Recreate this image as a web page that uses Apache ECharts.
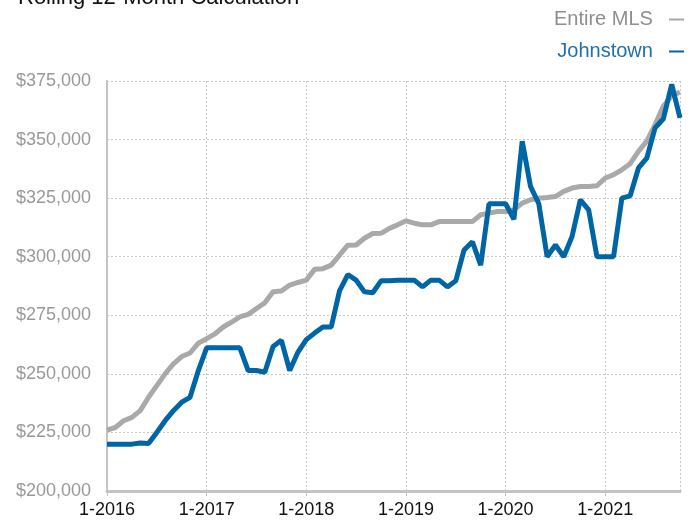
<!DOCTYPE html>
<html>
<head>
<meta charset="utf-8">
<script src="https://cdn.jsdelivr.net/npm/echarts@6/dist/echarts.min.js"></script>
<style>html,body{margin:0;padding:0;background:#fff}#c{width:700px;height:521px}</style>
</head>
<body>
<div id="c"></div>
<script>
// Months 1-2016 .. 10-2021
const months = [];
for (let y = 2016; y <= 2021; y++) {
  for (let m = 1; m <= 12; m++) {
    if (y === 2021 && m > 10) break;
    months.push(m + '-' + y);
  }
}
const entireMLS = [
  226000,227100,230000,231400,234300,240000,245000,250000,254300,257400,258900,263100,
  265000,267100,270000,272100,274300,275400,277900,280300,285000,285400,287900,289000,
  290000,294600,294900,296400,300700,304900,305000,307900,309900,310000,312100,313600,
  315300,314300,313600,313600,315000,315000,315000,315000,315000,317900,318600,319300,
  319300,320000,322900,324300,325000,325300,325700,327900,329300,330000,330000,330300,
  333600,335000,337100,339700,345000,349300,356400,364300,368600,370300
];
const johnstown = [
  220000,220000,220000,220000,220500,220300,225000,230000,234300,237900,240000,251400,
  261100,261100,261100,261100,261100,251400,251400,250700,261700,264300,251400,259300,
  264600,267400,270000,270000,285400,292400,290000,285000,284600,289700,289700,290000,
  290000,290000,287100,290000,290000,287100,289700,302900,306400,296400,322600,322600,
  322600,316000,349300,330000,322600,300000,305000,300000,308600,324300,320000,300000,
  300000,300000,325000,326000,337900,342100,355000,358900,373600,359300
];
const yTicks = { min: 200000, max: 375000, step: 25000 };

const FONT = '"Liberation Sans", Arial, Helvetica, sans-serif';
const chart = echarts.init(document.getElementById('c'));
chart.setOption({
  animation: false,
  textStyle: { fontFamily: FONT },
  graphic: [{
    type: 'text', left: 18, top: -13,
    style: { text: 'Rolling 12-Month Calculation', font: '500 22px ' + FONT, fill: '#111' }
  }],
  legend: {
    orient: 'vertical', right: 11, top: 3, align: 'right',
    icon: 'rect', itemWidth: 15, itemHeight: 2, itemGap: 9,
    formatter: (n) => n + '  ',
    textStyle: { fontSize: 20, lineHeight: 23, fontFamily: FONT },
    data: [
      { name: 'Entire MLS', textStyle: { color: '#8e8e8e' } },
      { name: 'Johnstown', textStyle: { color: '#1f6fae' } }
    ]
  },
  grid: { left: 107, right: 20, top: 81, bottom: 30, containLabel: false },
  xAxis: {
    type: 'category', data: months, boundaryGap: false,
    axisLine: { lineStyle: { color: '#c4c4c4', width: 3 } },
    axisTick: { show: true, interval: (i) => i % 12 === 0, length: 5, lineStyle: { color: '#c4c4c4', width: 1 } },
    axisLabel: { interval: (i) => i % 12 === 0, color: '#111', fontSize: 18, margin: 10 },
    splitLine: { show: true, interval: (i) => i % 12 === 0 || i === months.length - 1,
      lineStyle: { color: '#c8c8c8', type: [2, 2], width: 1 } }
  },
  yAxis: {
    type: 'value', min: yTicks.min, max: yTicks.max, interval: yTicks.step,
    axisLine: { show: true, lineStyle: { color: '#c4c4c4', width: 2 } },
    axisTick: { show: false },
    axisLabel: { color: '#999999', fontSize: 18, margin: 16,
      formatter: (v) => '$' + v.toLocaleString('en-US') },
    splitLine: { show: true, lineStyle: { color: '#c8c8c8', type: [2, 2], width: 1 } }
  },
  series: [
    { name: 'Entire MLS', type: 'line', data: entireMLS, showSymbol: false, symbol: 'none',
      lineStyle: { color: '#a9a9a9', width: 5 }, itemStyle: { color: '#a9a9a9' } },
    { name: 'Johnstown', type: 'line', data: johnstown, showSymbol: false, symbol: 'none',
      lineStyle: { color: '#0065a4', width: 5 }, itemStyle: { color: '#0065a4' } }
  ]
});
</script>
</body>
</html>
